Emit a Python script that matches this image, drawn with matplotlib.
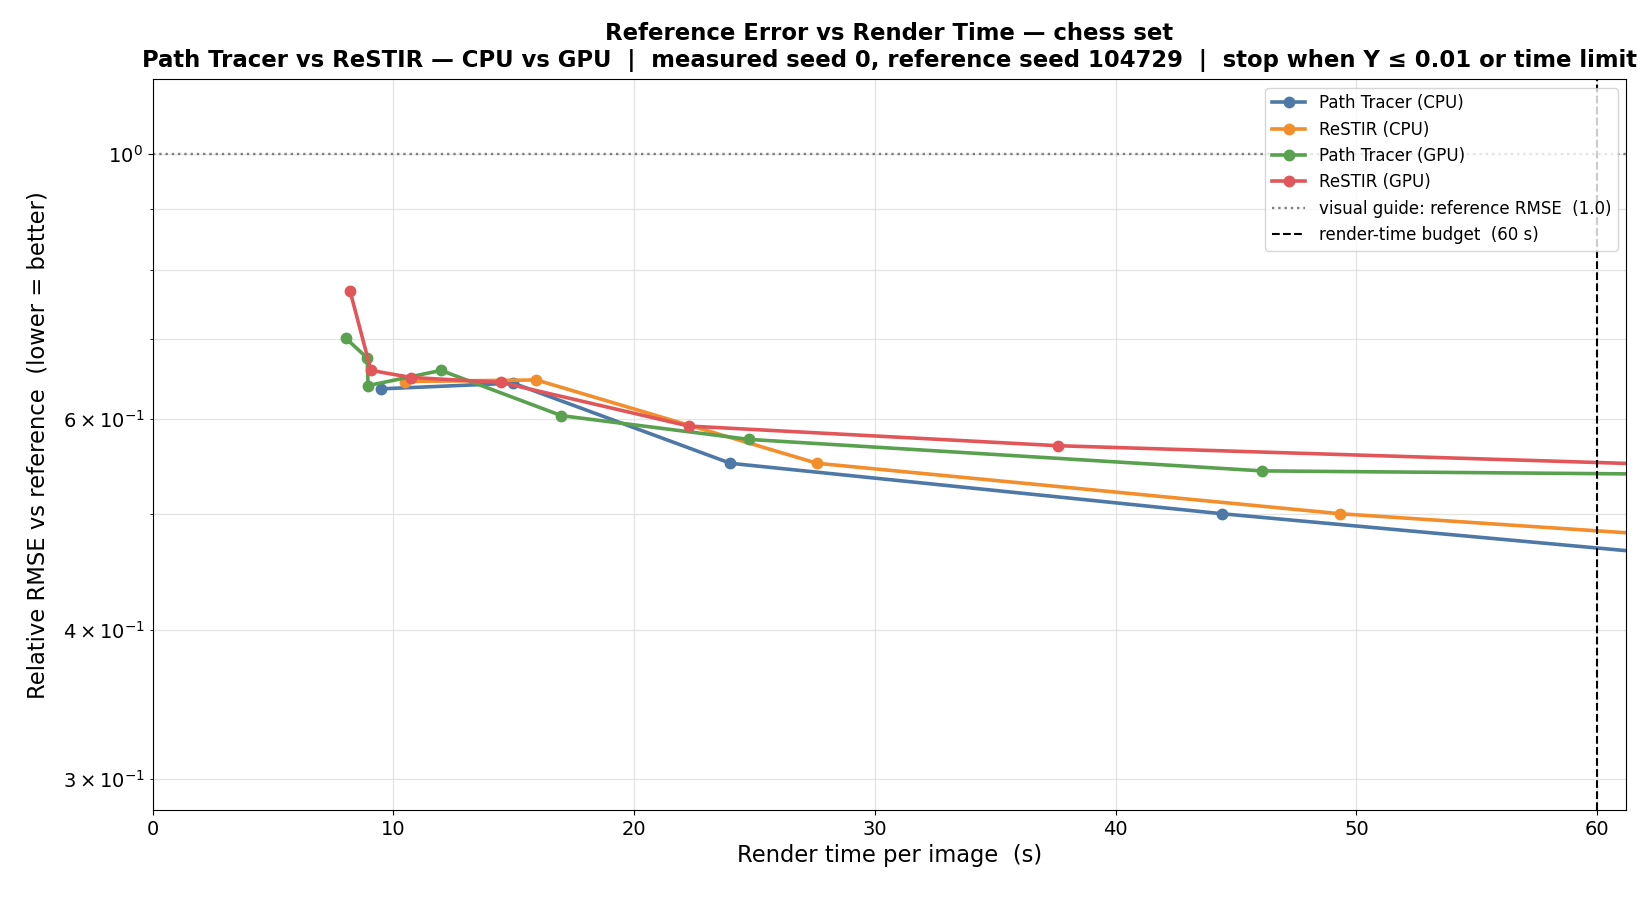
import matplotlib
matplotlib.use("Agg")
import matplotlib.pyplot as plt

# ----------------------------
# Data (render time in s, relative RMSE)
# ----------------------------
pt_cpu_t = [9.48, 14.98, 24.0, 44.4, 80.0]
pt_cpu_y = [0.636, 0.643, 0.551, 0.500, 0.430]

restir_cpu_t = [10.48, 15.94, 27.6, 49.3, 90.0]
restir_cpu_y = [0.645, 0.647, 0.551, 0.500, 0.441]

pt_gpu_t = [8.03, 8.91, 8.95, 11.98, 16.98, 24.76, 46.08, 90.0]
pt_gpu_y = [0.701, 0.675, 0.640, 0.659, 0.604, 0.577, 0.543, 0.534]

restir_gpu_t = [8.2, 9.07, 10.75, 14.47, 22.27, 37.6, 75.0]
restir_gpu_y = [0.768, 0.659, 0.650, 0.644, 0.592, 0.570, 0.540]

series = [
    ("Path Tracer (CPU)", pt_cpu_t, pt_cpu_y, "#4e79a7"),
    ("ReSTIR (CPU)", restir_cpu_t, restir_cpu_y, "#f28e2b"),
    ("Path Tracer (GPU)", pt_gpu_t, pt_gpu_y, "#59a14f"),
    ("ReSTIR (GPU)", restir_gpu_t, restir_gpu_y, "#e15759"),
]

REF_LEVEL = 1.0
TIME_BUDGET = 60

# ----------------------------
# Plot
# ----------------------------
fig, ax = plt.subplots(figsize=(16.5, 9), dpi=100)
fig.subplots_adjust(left=0.0925, right=0.9855, top=0.912, bottom=0.1)

for label, t, y, col in series:
    ax.plot(t, y, marker="o", markersize=7.5, linewidth=2.6, color=col, label=label)

ax.axhline(REF_LEVEL, color="gray", linestyle=":", linewidth=1.7,
           label="visual guide: reference RMSE  (1.0)")
ax.axvline(TIME_BUDGET, color="black", linestyle="--", linewidth=1.5,
           label="render-time budget  (60 s)")

ax.set_yscale("log")
ax.set_xlim(0, 61.2)
ax.set_ylim(0.2825, 1.155)

ax.grid(True, which="both", color="#dddddd", linewidth=0.9, alpha=0.8)
ax.tick_params(which="both", labelsize=14)

ax.set_xlabel("Render time per image  (s)", fontsize=16.3)
ax.set_ylabel("Relative RMSE vs reference  (lower = better)", fontsize=16.3, labelpad=10)
ax.set_title("Reference Error vs Render Time — chess set\n"
             "Path Tracer vs ReSTIR — CPU vs GPU  |  measured seed 0, reference seed 104729  |  "
             "stop when Y ≤ 0.01 or time limit",
             fontsize=16.4, fontweight="bold", pad=9)

ax.legend(loc="upper right", fontsize=12)

plt.savefig("out.png")
